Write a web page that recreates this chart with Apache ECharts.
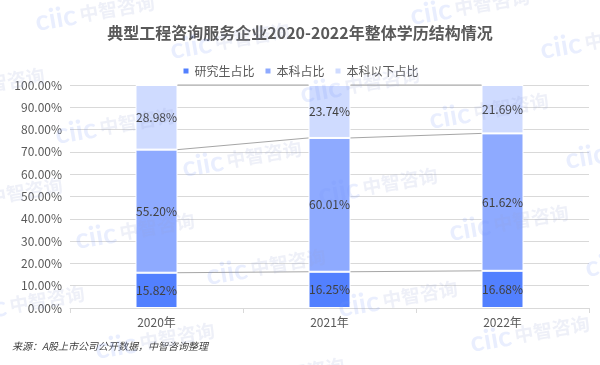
<!DOCTYPE html>
<html>
<head>
<meta charset="utf-8">
<script src="https://cdn.jsdelivr.net/npm/echarts@6/dist/echarts.min.js"></script>
<style>
html,body{margin:0;padding:0;background:#fff;}
#chart{width:600px;height:365px;}
</style>
</head>
<body>
<div id="chart"></div>
<script>
// ---- data ----
var categories = ['2020年', '2021年', '2022年'];
var seriesNames = ['研究生占比', '本科占比', '本科以下占比'];
var graduate = [15.82, 16.25, 16.68];
var bachelor = [55.20, 60.01, 61.62];
var belowBachelor = [28.98, 23.74, 21.69];
var yTicks = [0, 10, 20, 30, 40, 50, 60, 70, 80, 90, 100];
var titleText = '典型工程咨询服务企业2020-2022年整体学历结构情况';
var sourceText = '来源：A股上市公司公开数据，中智咨询整理';

// ---- styling ----
var FONT = '"Noto Sans CJK SC", "Noto Sans", sans-serif';
var COLORS = ['#5280ff', '#8eaaff', '#cfdbff'];
var BAR_W = 42;

var cum1 = graduate.slice();
var cum2 = graduate.map(function (v, i) { return v + bachelor[i]; });
var cum3 = cum2.map(function (v, i) { return v + belowBachelor[i]; });
var levels = [cum1, cum2, cum3];
var connectorData = [];
levels.forEach(function (lv) {
  for (var i = 0; i < lv.length - 1; i++) connectorData.push([i, lv[i], lv[i + 1]]);
});

var wmPos = [[95,12],[470,6],[230,40],[600,40],[-15,85],[360,84],[115,125],[242,158],[3,195],
  [489,110],[625,150],[378,185],[509,222],[135,230],[266,266],[645,258],[25,303],[155,340],
  [398,298],[530,333],[285,375]];
var graphics = wmPos.map(function (p) {
  return {
    type: 'text', x: p[0], y: p[1], rotation: 0.17, z: 100, silent: true,
    style: {
      text: '{a|ciic} {b|中智咨询}', align: 'center', verticalAlign: 'middle',
      rich: {
        a: { fontFamily: 'Lato, sans-serif', fontWeight: 'bold', fontSize: 28, fill: 'rgba(120,150,250,0.16)' },
        b: { fontFamily: FONT, fontWeight: 'bold', fontSize: 19, fill: 'rgba(150,160,210,0.16)' }
      }
    }
  };
});
graphics.push({
  type: 'text', left: 12, top: 341, z: 50,
  style: { text: sourceText, font: 'italic 10px ' + FONT, fill: '#404040' }
});

function barSeries(name, data, color) {
  return {
    name: name, type: 'bar', stack: 'total', data: data, barWidth: BAR_W,
    itemStyle: { color: color, borderColor: '#ffffff', borderWidth: 1 },
    label: {
      show: true, position: 'inside', color: '#404040', fontSize: 12, fontFamily: FONT,
      formatter: function (p) { return p.value.toFixed(2) + '%'; }
    }
  };
}

var chart = echarts.init(document.getElementById('chart'), null, { renderer: 'canvas' });
chart.setOption({
  backgroundColor: '#ffffff',
  animation: false,
  color: COLORS,
  title: {
    text: titleText, left: 'center', top: 20,
    textStyle: { fontFamily: FONT, fontSize: 16, fontWeight: 'bold', color: '#595959' }
  },
  legend: {
    data: seriesNames, top: 60, left: 'center', icon: 'rect', itemWidth: 7, itemHeight: 7, itemGap: 9,
    textStyle: { fontFamily: FONT, fontSize: 12, color: '#595959' }
  },
  grid: { left: 70, right: 11, top: 85, bottom: 57, containLabel: false },
  xAxis: {
    type: 'category', data: categories,
    axisLine: { lineStyle: { color: '#d9d9d9' } },
    axisTick: { show: true, length: 5, lineStyle: { color: '#d9d9d9' } },
    axisLabel: { fontFamily: FONT, fontSize: 12, color: '#595959', margin: 8 }
  },
  yAxis: {
    type: 'value', min: yTicks[0], max: yTicks[yTicks.length - 1], interval: yTicks[1] - yTicks[0],
    axisLine: { show: false }, axisTick: { show: false },
    splitLine: { lineStyle: { color: '#d9d9d9' } },
    axisLabel: {
      fontFamily: FONT, fontSize: 12, color: '#595959', margin: 8,
      formatter: function (v) { return v.toFixed(2) + '%'; }
    }
  },
  graphic: graphics,
  series: [
    barSeries(seriesNames[0], graduate, COLORS[0]),
    barSeries(seriesNames[1], bachelor, COLORS[1]),
    barSeries(seriesNames[2], belowBachelor, COLORS[2]),
    {
      type: 'custom', data: connectorData, silent: true, z: 5,
      renderItem: function (params, api) {
        var i = api.value(0);
        var p1 = api.coord([i, api.value(1)]);
        var p2 = api.coord([i + 1, api.value(2)]);
        return {
          type: 'line',
          shape: { x1: p1[0] + BAR_W / 2, y1: p1[1], x2: p2[0] - BAR_W / 2, y2: p2[1] },
          style: { stroke: '#a6a6a6', lineWidth: 1 }
        };
      }
    }
  ]
});
</script>
</body>
</html>
